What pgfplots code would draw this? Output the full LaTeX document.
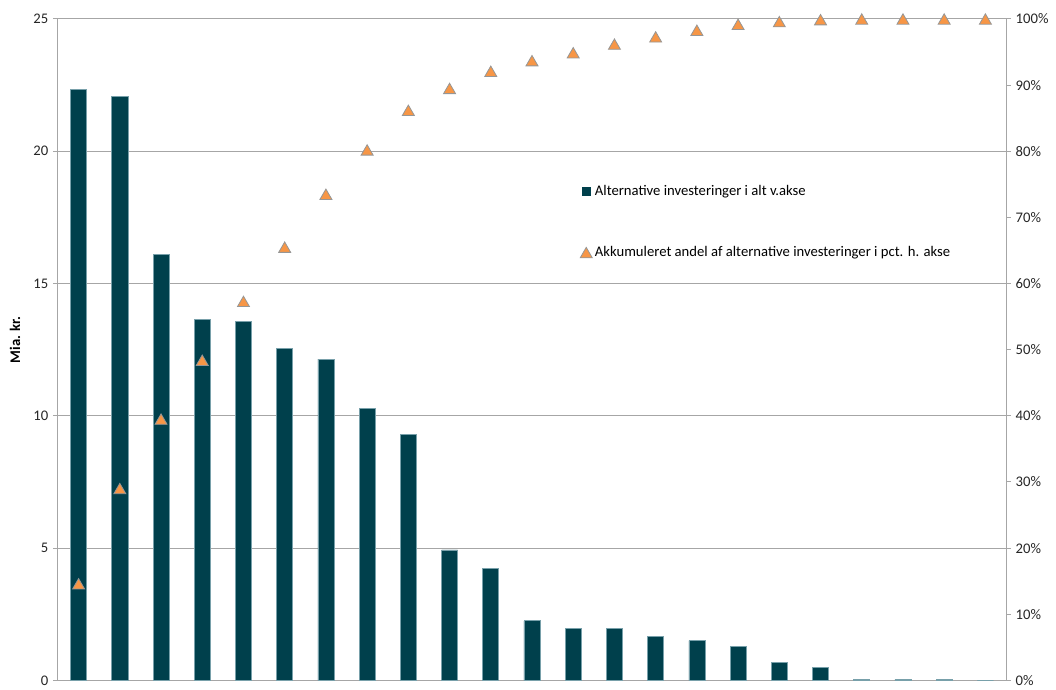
\documentclass[border=0pt]{standalone}
\usepackage{fontspec}
\setmainfont{Carlito}
\usepackage{pgfplots}
\usepackage{pgfplotstable}
\pgfplotsset{compat=1.18}

\definecolor{barcol}{RGB}{0,64,76}
\definecolor{baredge}{RGB}{120,160,170}
\definecolor{tri}{RGB}{247,150,70}
\definecolor{triedge}{RGB}{150,150,150}
\definecolor{gridc}{RGB}{166,166,166}

% amount (bn. kr.) and accumulated share (pct.)
\pgfplotstableread{
x  val    share
0  22.33  14.6
1  22.06  29.0
2  16.11  39.5
3  13.65  48.4
4  13.58  57.3
5  12.56  65.5
6  12.14  73.5
7  10.29  80.2
8  9.29   86.2
9  4.93   89.5
10 4.22   92.1
11 2.25   93.7
12 1.96   94.9
13 1.96   96.2
14 1.66   97.3
15 1.50   98.3
16 1.29   99.2
17 0.69   99.6
18 0.50   99.9
19 0.03   100
20 0.03   100
21 0.03   100
22 0      100
}\datatable

\newcommand{\chartfont}{\fontsize{11}{13.2}\selectfont}

\pgfplotsset{
  base/.style={
    scale only axis,
    width=711pt, height=496pt,
    xmin=-0.5, xmax=22.5,
    xtick=\empty,
    axis line style={gridc, line width=0.75pt},
    tick style={gridc, line width=0.75pt},
    major tick length=3.75pt,
    tick align=outside,
    /pgf/number format/assume math mode=true,
    ticklabel style={font=\chartfont, text=black!85},
  }
}

\begin{document}
\begin{tikzpicture}
\begin{axis}[base, name=ax,
    ymin=0, ymax=25,
    ytick={0,5,...,25},
    axis x line*=bottom, axis y line*=left,
    ymajorgrids,
    grid style={gridc, line width=0.75pt},
    ylabel={\textbf{Mia. kr.}},
    ylabel style={at={(axis description cs:-0.0454,0.515)}, anchor=center,
                  font=\chartfont},
]
\addplot[ybar, bar width=0.39, fill=barcol, draw=baredge, line width=0.5pt]
  table[x=x, y=val]{\datatable};
\end{axis}

\begin{axis}[base,
    ymin=0, ymax=100,
    ytick={0,10,...,100},
    yticklabel={\pgfmathprintnumber{\tick}\%},
    axis y line*=right, axis x line=none,
    legend style={at={(axis description cs:0.5506,0.7535)}, anchor=north west,
                  draw=none, fill=none, inner sep=0pt, row sep=33pt,
                  font=\chartfont},
    legend cell align=left,
    legend image code/.code={\draw[#1] plot coordinates {(0pt,0pt)};},
]
\addlegendimage{only marks, mark=square*, mark size=3pt,
                mark options={fill=barcol, draw=barcol}}
\addlegendentry{Alternative investeringer i alt v.akse}
\addplot[only marks, mark=triangle*, mark size=5.2pt,
         mark options={fill=tri, draw=triedge, line width=0.6pt, yshift=-1.3pt}]
  table[x=x, y=share]{\datatable};
\addlegendentry{Akkumuleret andel af alternative investeringer i pct. h. akse}
\end{axis}

\pgfresetboundingbox
\path ([shift={(-43.5pt,-6.5pt)}]ax.south west)
      rectangle ([shift={(37.5pt,14.25pt)}]ax.north east);
\end{tikzpicture}
\end{document}
